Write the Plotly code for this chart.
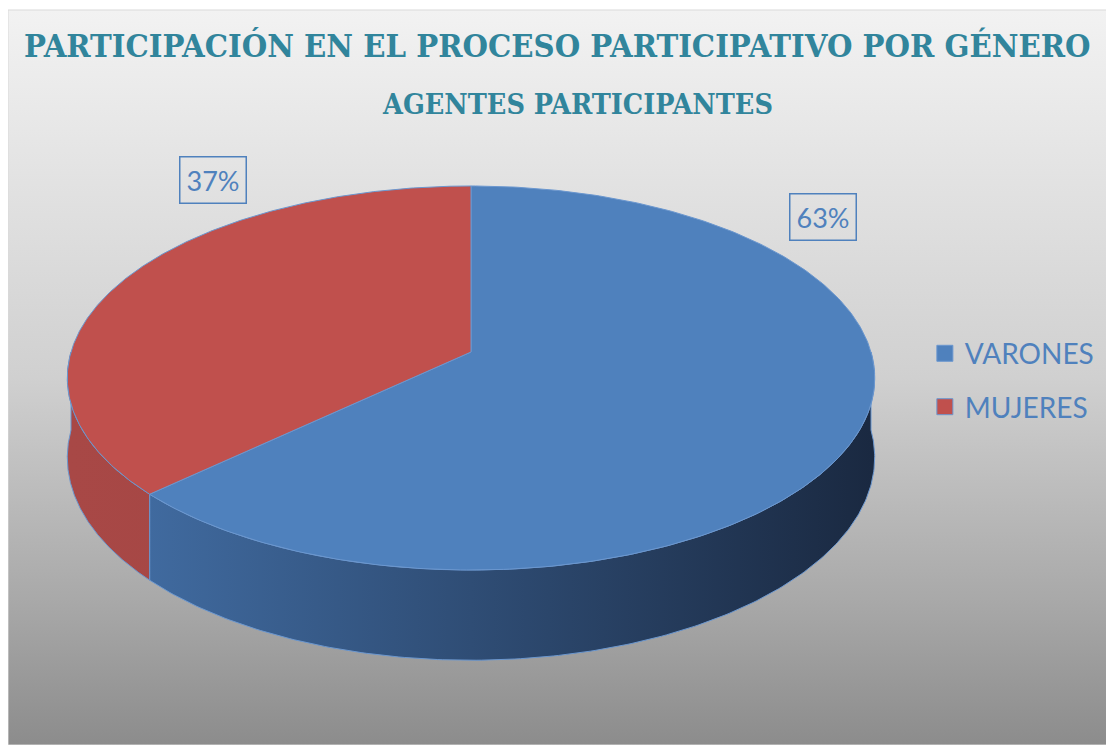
import numpy as np
import plotly.graph_objects as go

# datos del grafico
labels = ["VARONES", "MUJERES"]
values = [63, 37]
top_colors = ["#4f81bd", "#c0504d"]
side_colors = [("#4471a9", "#1a2941"), ("#a84846", "#9a403e")]

title = "PARTICIPACIÓN EN EL PROCESO PARTICIPATIVO POR GÉNERO"
subtitle = "AGENTES PARTICIPANTES"

# geometria (coordenadas de pagina; el body tiene 8 px de margen)
OFF = 8
W, H = 1114, 745
CX, CY = 471, 352
RX, RY = 400, 188.5
K = 0.1354      # perspectiva
DEPTH = 78
label_pos = [(823, 217), (213, 180)]
TEAL = "#31859c"
TXT = "#4f81bd"
TITLE_FONT = "DejaVu Serif Condensed, Liberation Serif"


def proj(theta, drop=0.0):
    u = np.sin(theta)
    v = -np.cos(theta)
    s = 1.0 / (1.0 - K * v)
    return CX + RX * u * s, CY + RY * v * s + drop * s


fig = go.Figure()

# fondo con degradado
fig.add_trace(go.Scatter(
    x=[OFF, W, W, OFF, OFF], y=[OFF + 2, OFF + 2, H, H, OFF + 2], mode="lines", fill="toself",
    line=dict(color="#d9d9d9", width=1),
    fillgradient=dict(type="vertical", start=10, stop=H,
                      colorscale=[[0, "#f2f2f2"], [0.5, "#d0d0d0"],
                                  [0.8, "#a9a9a9"], [1, "#8c8c8c"]]),
    hoverinfo="skip", showlegend=False))

total = sum(values)
bounds = np.concatenate([[0], np.cumsum(values)]) / total * 2 * np.pi

# caras laterales (solo la mitad frontal)
for i in range(len(values)):
    a = max(bounds[i], np.pi / 2)
    b = min(bounds[i + 1], 3 * np.pi / 2)
    if a >= b:
        continue
    t = np.linspace(a, b, 200)
    xt, yt = proj(t)
    xb, yb = proj(t[::-1], DEPTH)
    xs = np.concatenate([xt, xb, xt[:1]])
    ys = np.concatenate([yt, yb, yt[:1]])
    fig.add_trace(go.Scatter(
        x=xs, y=ys, mode="lines", fill="toself",
        line=dict(color="#6b97cf", width=1),
        fillgradient=dict(type="horizontal", start=CX - RX, stop=CX + RX,
                          colorscale=[[0, side_colors[i][0]], [1, side_colors[i][1]]]),
        hoverinfo="skip", showlegend=False))

# caras superiores
for i in range(len(values)):
    t = np.linspace(bounds[i], bounds[i + 1], 300)
    xa, ya = proj(t)
    xs = np.concatenate([[CX], xa, [CX]])
    ys = np.concatenate([[CY], ya, [CY]])
    fig.add_trace(go.Scatter(
        x=xs, y=ys, mode="lines", fill="toself", fillcolor=top_colors[i],
        line=dict(color="#6b97cf", width=1),
        hoverinfo="skip", showlegend=False))

# leyenda
for i, lab in enumerate(labels):
    fig.add_trace(go.Scatter(
        x=[None], y=[None], mode="markers", name=lab, legendgroup=lab,
        marker=dict(symbol="square", size=16, color=top_colors[i],
                    line=dict(color="#6b97cf", width=1))))

# etiquetas de porcentaje
for i, v in enumerate(values):
    fig.add_annotation(
        x=label_pos[i][0], y=label_pos[i][1], text=f"{round(v / total * 100)}%",
        showarrow=False, font=dict(family="Lato", size=27, color=TXT),
        bordercolor=TXT, borderwidth=1.5, borderpad=6)

fig.add_annotation(x=557, y=45, text=f"<b>{title}</b>", showarrow=False,
                   font=dict(family=TITLE_FONT, size=32.5, color=TEAL))
fig.add_annotation(x=577, y=104, text=f"<b>{subtitle}</b>", showarrow=False,
                   font=dict(family=TITLE_FONT, size=28.5, color=TEAL))

fig.update_layout(
    width=W - OFF, height=H - OFF, margin=dict(l=0, r=0, t=0, b=0),
    paper_bgcolor="white", plot_bgcolor="white",
    xaxis=dict(range=[OFF, W], visible=False, fixedrange=True),
    yaxis=dict(range=[H, OFF], visible=False, fixedrange=True),
    showlegend=True,
    legend=dict(x=0.829, y=0.565, xanchor="left", yanchor="top",
                font=dict(family="Lato", size=28, color=TXT),
                bgcolor="rgba(0,0,0,0)", tracegroupgap=14, itemsizing="trace"),
)

fig.write_html("out.html")
